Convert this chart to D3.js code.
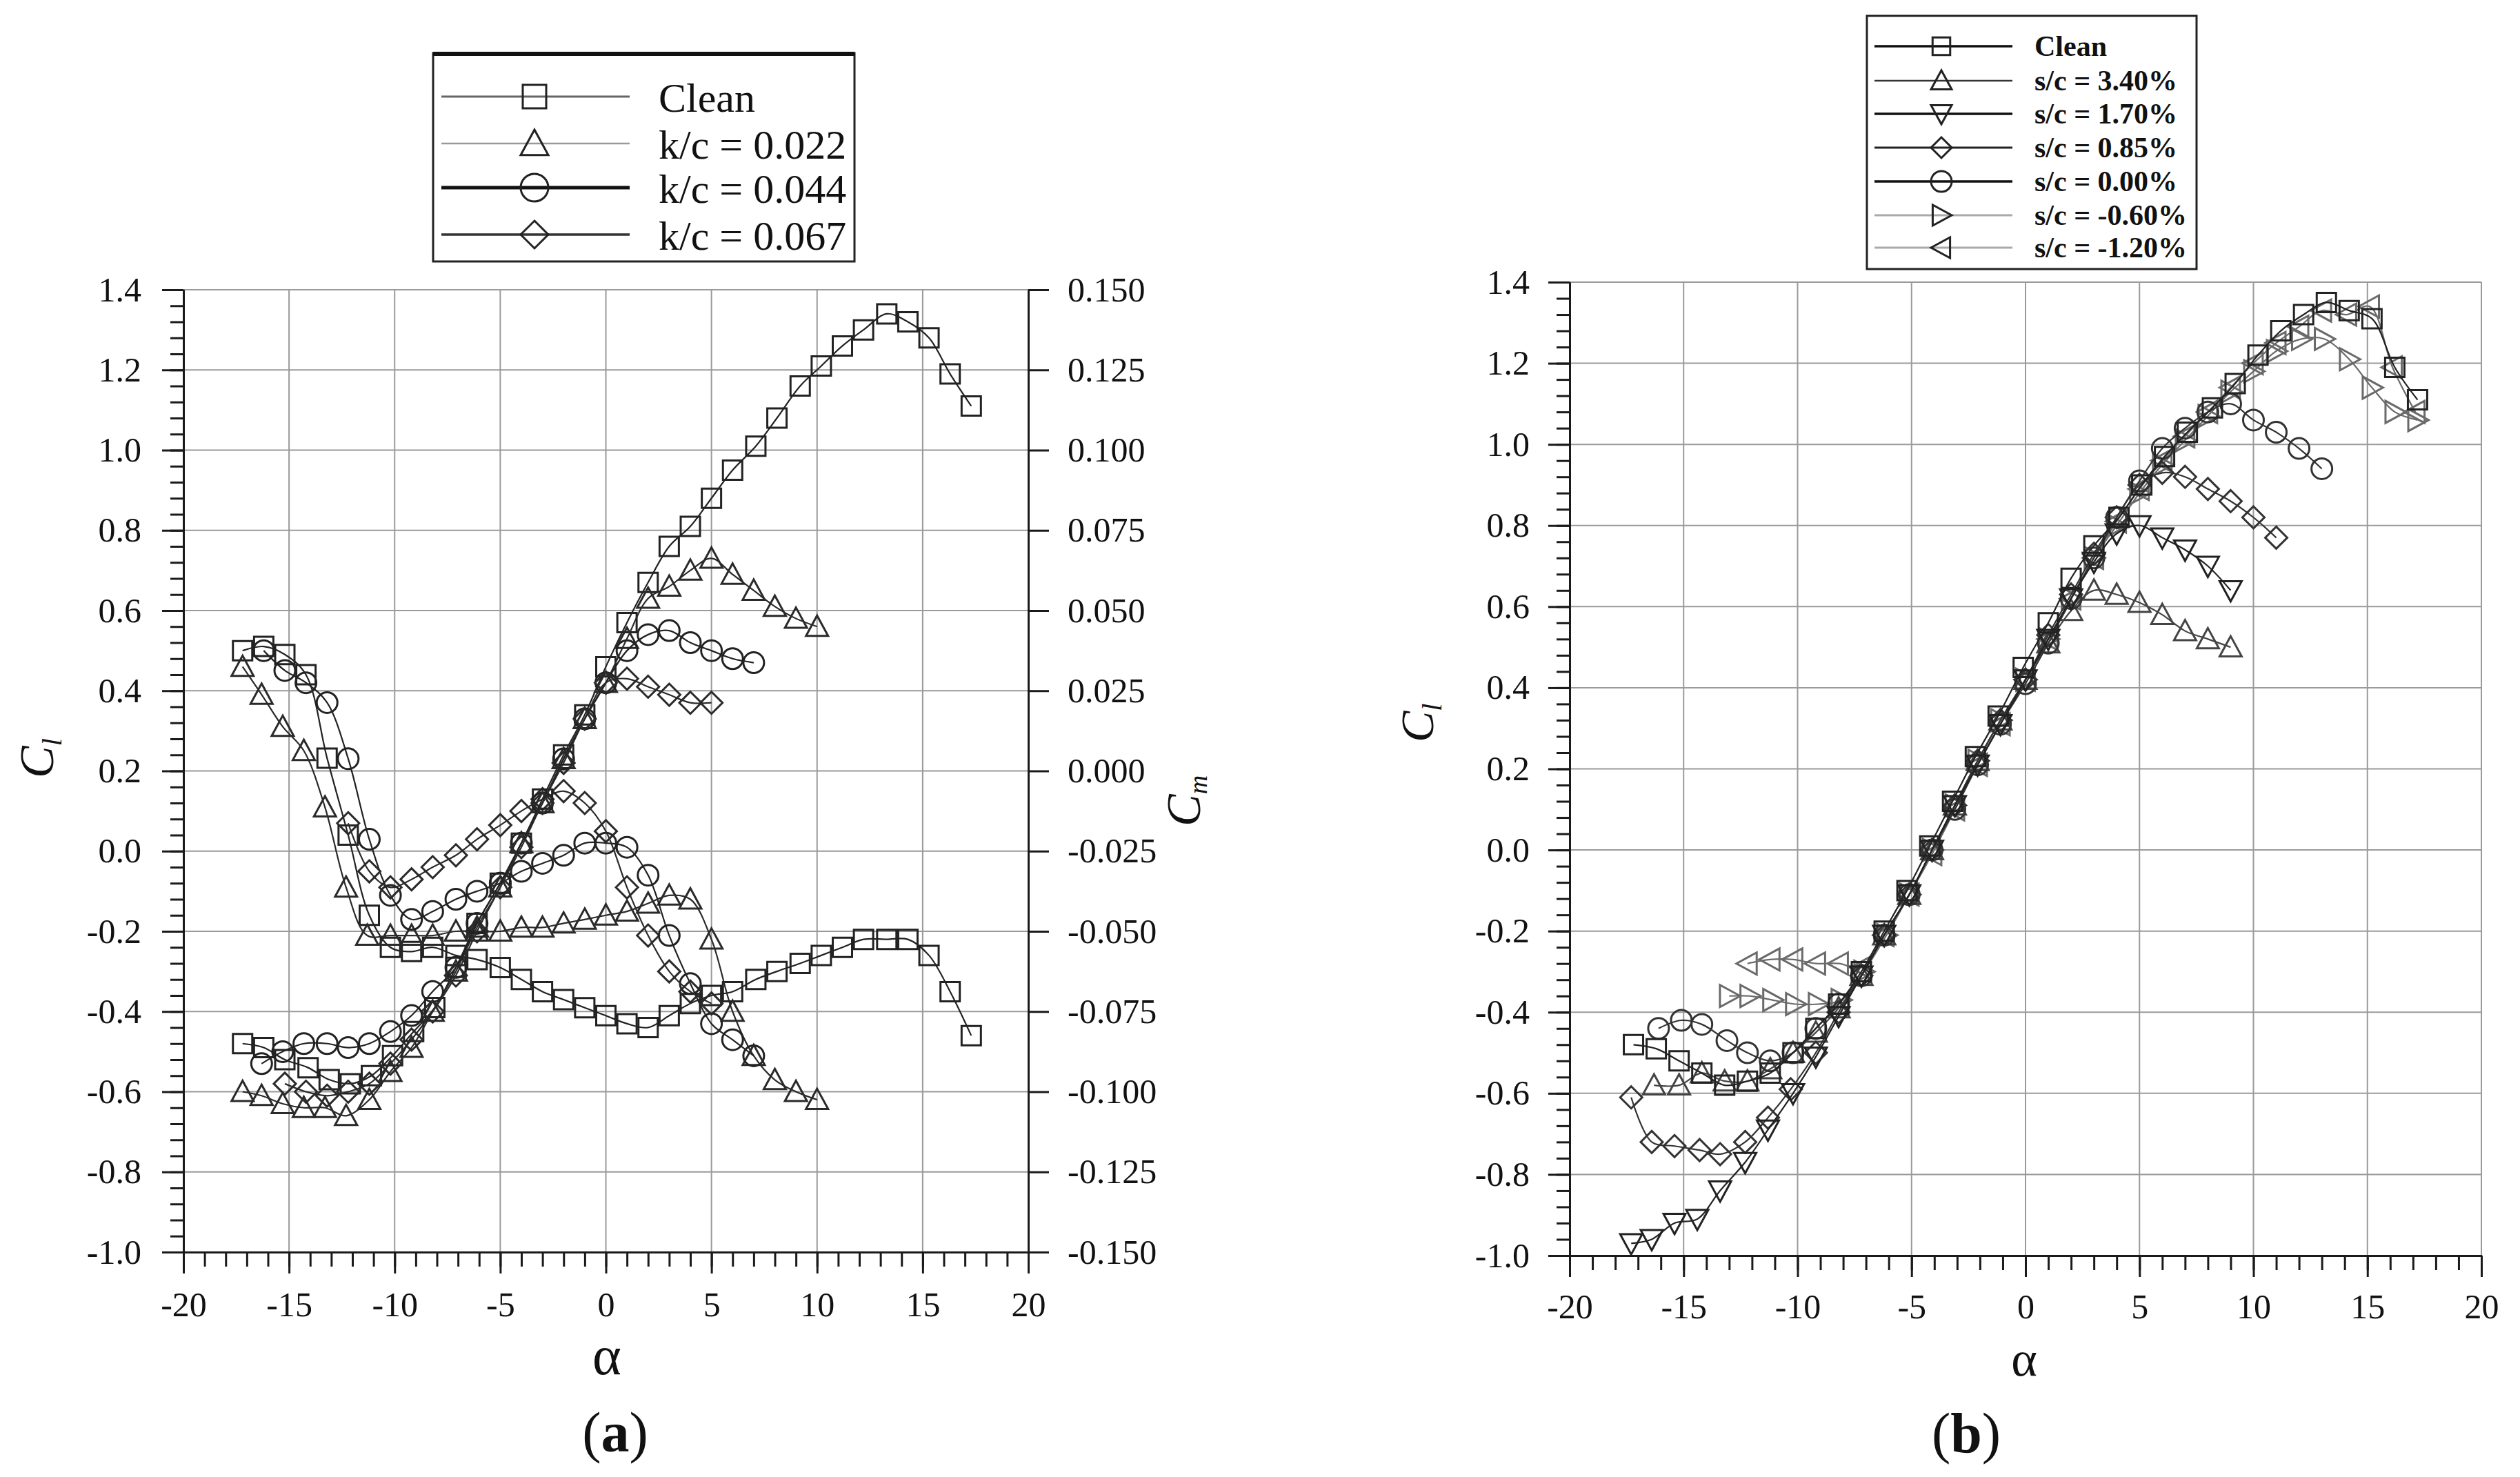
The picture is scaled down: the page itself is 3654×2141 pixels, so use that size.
<!DOCTYPE html>
<html>
<head>
<meta charset="utf-8">
<script src="https://cdn.jsdelivr.net/npm/d3@7"></script>
<style>
body{margin:0;background:#fff;}
svg text{font-family:"Liberation Serif","Times New Roman",serif;fill:#111;}
.axis path,.axis line{stroke:#1a1a1a;stroke-width:3;}
.axis text{font-size:50px;}
.grid line{stroke:#9a9a9a;stroke-width:2;}
</style>
</head>
<body>
<svg id="chart"></svg>
<script>
// tick labels
var alphaTicks = [-20, -15, -10, -5, 0, 5, 10, 15, 20];
var clTicks = [-1.0, -0.8, -0.6, -0.4, -0.2, 0.0, 0.2, 0.4, 0.6, 0.8, 1.0, 1.2, 1.4];
var cmTicks = [-0.150, -0.125, -0.100, -0.075, -0.050, -0.025, 0.000, 0.025, 0.050, 0.075, 0.100, 0.125, 0.150];

// panel (a): [alpha, Cl] and [alpha, Cm]
var aCleanCl = [[-17.2,-0.48],[-16.2,-0.49],[-15.2,-0.52],[-14.1,-0.54],[-13.1,-0.57],[-12.1,-0.58],[-11.1,-0.56],[-10.1,-0.51],[-9.1,-0.45],[-8.1,-0.39],[-7.1,-0.29],[-6.1,-0.18],[-5.0,-0.08],[-4.0,0.02],[-3.0,0.13],[-2.0,0.24],[-1.0,0.34],[0.0,0.46],[1.0,0.57],[2.0,0.67],[3.0,0.76],[4.0,0.81],[5.0,0.88],[6.0,0.95],[7.1,1.01],[8.1,1.08],[9.2,1.16],[10.2,1.21],[11.2,1.26],[12.2,1.30],[13.3,1.34],[14.3,1.32],[15.3,1.28],[16.3,1.19],[17.3,1.11]];
var a022Cl = [[-17.2,-0.60],[-16.3,-0.61],[-15.3,-0.63],[-14.3,-0.64],[-13.3,-0.64],[-12.3,-0.66],[-11.2,-0.62],[-10.2,-0.55],[-9.2,-0.49],[-8.2,-0.40],[-7.1,-0.30],[-6.1,-0.19],[-5.0,-0.09],[-4.0,0.02],[-3.0,0.12],[-2.0,0.23],[-1.0,0.33],[0.0,0.42],[1.0,0.53],[2.0,0.63],[3.0,0.66],[4.0,0.70],[5.0,0.73],[6.0,0.69],[7.0,0.65],[8.0,0.61],[9.0,0.58],[10.0,0.56]];
var a044Cl = [[-16.3,-0.53],[-15.3,-0.50],[-14.3,-0.48],[-13.2,-0.48],[-12.2,-0.49],[-11.2,-0.48],[-10.2,-0.45],[-9.2,-0.41],[-8.2,-0.35],[-7.1,-0.29],[-6.1,-0.18],[-5.0,-0.08],[-4.0,0.02],[-3.0,0.12],[-2.0,0.23],[-1.0,0.33],[0.0,0.42],[1.0,0.50],[2.0,0.54],[3.0,0.55],[4.0,0.52],[5.0,0.50],[6.0,0.48],[7.0,0.47]];
var a067Cl = [[-15.2,-0.58],[-14.2,-0.60],[-13.2,-0.61],[-12.2,-0.60],[-11.2,-0.58],[-10.2,-0.53],[-9.2,-0.47],[-8.2,-0.40],[-7.1,-0.31],[-6.1,-0.20],[-5.0,-0.09],[-4.0,0.01],[-3.0,0.12],[-2.0,0.22],[-1.0,0.33],[0.0,0.42],[1.0,0.43],[2.0,0.41],[3.0,0.39],[4.0,0.37],[5.0,0.37]];
var aCleanCm = [[-17.2,0.0375],[-16.2,0.0388],[-15.2,0.0363],[-14.2,0.0300],[-13.2,0.0040],[-12.2,-0.0200],[-11.2,-0.0450],[-10.2,-0.0550],[-9.2,-0.0563],[-8.2,-0.0550],[-7.1,-0.0575],[-6.1,-0.0588],[-5.0,-0.0613],[-4.0,-0.0650],[-3.0,-0.0688],[-2.0,-0.0713],[-1.0,-0.0738],[0.0,-0.0763],[1.0,-0.0788],[2.0,-0.0800],[3.0,-0.0763],[4.0,-0.0725],[5.0,-0.0700],[6.0,-0.0688],[7.1,-0.0650],[8.1,-0.0625],[9.2,-0.0600],[10.2,-0.0575],[11.2,-0.0550],[12.2,-0.0525],[13.3,-0.0525],[14.3,-0.0525],[15.3,-0.0575],[16.3,-0.0688],[17.3,-0.0825]];
var a022Cm = [[-17.2,0.0325],[-16.3,0.0238],[-15.3,0.0138],[-14.3,0.0063],[-13.3,-0.0113],[-12.3,-0.0363],[-11.3,-0.0513],[-10.2,-0.0513],[-9.2,-0.0513],[-8.2,-0.0513],[-7.1,-0.0500],[-6.1,-0.0500],[-5.0,-0.0500],[-4.0,-0.0488],[-3.0,-0.0488],[-2.0,-0.0475],[-1.0,-0.0463],[0.0,-0.0450],[1.0,-0.0438],[2.0,-0.0413],[3.0,-0.0388],[4.0,-0.0400],[5.0,-0.0525],[6.0,-0.0750],[7.0,-0.0888],[8.0,-0.0963],[9.0,-0.1000],[10.0,-0.1025]];
var a044Cm = [[-16.2,0.0375],[-15.2,0.0313],[-14.2,0.0275],[-13.2,0.0213],[-12.2,0.0038],[-11.2,-0.0213],[-10.2,-0.0388],[-9.2,-0.0463],[-8.2,-0.0438],[-7.1,-0.0400],[-6.1,-0.0375],[-5.0,-0.0350],[-4.0,-0.0313],[-3.0,-0.0288],[-2.0,-0.0263],[-1.0,-0.0225],[0.0,-0.0225],[1.0,-0.0238],[2.0,-0.0325],[3.0,-0.0513],[4.0,-0.0663],[5.0,-0.0788],[6.0,-0.0838],[7.0,-0.0888]];
var a067Cm = [[-12.2,-0.0163],[-11.2,-0.0313],[-10.2,-0.0363],[-9.2,-0.0338],[-8.2,-0.0300],[-7.1,-0.0263],[-6.1,-0.0213],[-5.0,-0.0169],[-4.0,-0.0125],[-3.0,-0.0088],[-2.0,-0.0063],[-1.0,-0.0100],[0.0,-0.0188],[1.0,-0.0363],[2.0,-0.0513],[3.0,-0.0625],[4.0,-0.0688],[5.0,-0.0725]];

// panel (b): [alpha, Cl]
var bClean = [[-17.2,-0.48],[-16.2,-0.49],[-15.2,-0.52],[-14.2,-0.55],[-13.2,-0.58],[-12.2,-0.57],[-11.2,-0.55],[-10.2,-0.50],[-9.2,-0.44],[-8.2,-0.38],[-7.2,-0.30],[-6.2,-0.20],[-5.2,-0.10],[-4.2,0.01],[-3.2,0.12],[-2.2,0.23],[-1.2,0.33],[-0.1,0.45],[1.0,0.56],[2.0,0.67],[3.0,0.75],[4.1,0.82],[5.1,0.90],[6.1,0.97],[7.1,1.03],[8.2,1.09],[9.2,1.15],[10.2,1.22],[11.2,1.28],[12.2,1.32],[13.2,1.35],[14.2,1.33],[15.2,1.31],[16.2,1.19],[17.2,1.11]];
var b340 = [[-16.3,-0.58],[-15.2,-0.58],[-14.2,-0.55],[-13.2,-0.57],[-12.2,-0.57],[-11.2,-0.54],[-10.2,-0.50],[-9.2,-0.45],[-8.2,-0.39],[-7.2,-0.31],[-6.2,-0.21],[-5.1,-0.11],[-4.1,0.00],[-3.1,0.11],[-2.1,0.22],[-1.1,0.32],[0.0,0.42],[1.0,0.51],[2.0,0.59],[3.0,0.64],[4.0,0.63],[5.0,0.61],[6.0,0.58],[7.0,0.54],[8.0,0.52],[9.0,0.50]];
var b170 = [[-17.3,-0.97],[-16.4,-0.96],[-15.4,-0.92],[-14.4,-0.91],[-13.4,-0.84],[-12.3,-0.77],[-11.3,-0.69],[-10.2,-0.60],[-9.2,-0.51],[-8.2,-0.41],[-7.2,-0.31],[-6.2,-0.21],[-5.1,-0.11],[-4.1,0.00],[-3.1,0.11],[-2.1,0.21],[-1.1,0.31],[0.0,0.42],[1.0,0.52],[2.0,0.62],[3.0,0.71],[4.0,0.78],[5.0,0.80],[6.0,0.77],[7.0,0.74],[8.0,0.70],[9.0,0.64]];
var b085 = [[-17.3,-0.61],[-16.4,-0.72],[-15.4,-0.73],[-14.3,-0.74],[-13.4,-0.75],[-12.3,-0.72],[-11.3,-0.66],[-10.3,-0.59],[-9.2,-0.50],[-8.2,-0.40],[-7.2,-0.31],[-6.2,-0.21],[-5.1,-0.11],[-4.1,0.00],[-3.1,0.11],[-2.1,0.22],[-1.1,0.32],[0.0,0.42],[1.0,0.53],[2.0,0.63],[3.0,0.73],[4.0,0.82],[5.0,0.90],[6.0,0.93],[7.0,0.92],[8.0,0.89],[9.0,0.86],[10.0,0.82],[11.0,0.77]];
var b000 = [[-16.1,-0.44],[-15.1,-0.42],[-14.2,-0.43],[-13.1,-0.47],[-12.2,-0.50],[-11.2,-0.52],[-10.2,-0.50],[-9.2,-0.44],[-8.2,-0.38],[-7.2,-0.31],[-6.2,-0.21],[-5.1,-0.11],[-4.1,0.00],[-3.1,0.10],[-2.1,0.21],[-1.1,0.31],[0.0,0.41],[1.0,0.51],[2.0,0.62],[3.0,0.72],[4.0,0.82],[5.0,0.91],[6.0,0.99],[7.0,1.04],[8.0,1.08],[9.0,1.10],[10.0,1.06],[11.0,1.03],[12.0,0.99],[13.0,0.94]];
var bm060 = [[-13.0,-0.36],[-12.1,-0.36],[-11.1,-0.37],[-10.1,-0.38],[-9.1,-0.38],[-8.1,-0.37],[-7.1,-0.30],[-6.1,-0.21],[-5.1,-0.11],[-4.1,0.00],[-3.1,0.11],[-2.1,0.22],[-1.1,0.32],[0.0,0.42],[1.0,0.52],[2.0,0.62],[3.0,0.72],[4.0,0.80],[5.0,0.88],[6.0,0.95],[7.0,1.01],[8.0,1.07],[9.0,1.13],[10.0,1.18],[11.0,1.23],[12.1,1.26],[13.1,1.26],[14.2,1.21],[15.2,1.14],[16.2,1.08],[17.2,1.06]];
var bm120 = [[-12.2,-0.28],[-11.2,-0.27],[-10.2,-0.27],[-9.2,-0.28],[-8.2,-0.28],[-7.2,-0.29],[-6.2,-0.21],[-5.1,-0.11],[-4.1,-0.01],[-3.1,0.10],[-2.1,0.21],[-1.1,0.31],[0.0,0.42],[1.0,0.52],[2.0,0.62],[3.0,0.72],[4.0,0.81],[5.0,0.89],[6.0,0.96],[7.0,1.02],[8.0,1.08],[9.0,1.14],[10.0,1.20],[11.0,1.25],[12.0,1.29],[13.0,1.33],[14.1,1.32],[15.1,1.34],[16.1,1.19],[17.1,1.08]];

var aLegendNames = ['Clean', 'k/c = 0.022', 'k/c = 0.044', 'k/c = 0.067'];
var bLegendNames = ['Clean', 's/c = 3.40%', 's/c = 1.70%', 's/c = 0.85%', 's/c = 0.00%', 's/c = -0.60%', 's/c = -1.20%'];

var svg = d3.select('#chart').attr('width', 3654).attr('height', 2141);
svg.append('rect').attr('width', 3654).attr('height', 2141).attr('fill', '#fff');

var markSize = {square: 28, circle: 30, up: 32, down: 32, left: 32, right: 32, diamond: 32};

function markerPath(shape, s) {
    var h = s / 2, t = s * 0.42;
    if (shape === 'square') return 'M' + -h + ',' + -h + 'H' + h + 'V' + h + 'H' + -h + 'Z';
    if (shape === 'circle') return 'M' + h + ',0A' + h + ',' + h + ',0,1,1,' + -h + ',0A' + h + ',' + h + ',0,1,1,' + h + ',0Z';
    if (shape === 'diamond') return 'M0,' + -h + 'L' + h + ',0L0,' + h + 'L' + -h + ',0Z';
    if (shape === 'up') return 'M0,' + -h + 'L' + h + ',' + t + 'L' + -h + ',' + t + 'Z';
    if (shape === 'down') return 'M0,' + h + 'L' + h + ',' + -t + 'L' + -h + ',' + -t + 'Z';
    if (shape === 'right') return 'M' + h + ',0L' + -t + ',' + -h + 'L' + -t + ',' + h + 'Z';
    return 'M' + -h + ',0L' + t + ',' + -h + 'L' + t + ',' + h + 'Z';
}

function drawFrame(x, y, rightGrid) {
    var g = svg.append('g');
    var grid = g.append('g').attr('class', 'grid');
    var vx = alphaTicks.filter(function(d) { return d > -20 && (rightGrid || d < 20); });
    grid.selectAll('.gv').data(vx).enter().append('line')
        .attr('x1', function(d) { return x(d); }).attr('x2', function(d) { return x(d); })
        .attr('y1', y.range()[0]).attr('y2', y.range()[1]);
    grid.selectAll('.gh').data(clTicks.filter(function(d) { return d > -1; })).enter().append('line')
        .attr('x1', x.range()[0]).attr('x2', x.range()[1])
        .attr('y1', function(d) { return y(d); }).attr('y2', function(d) { return y(d); });
    return g;
}

function drawAxes(x, y, yPad, xPad) {
    var left = x.range()[0], bottom = y.range()[0];
    var minorY = d3.range(0, 61).map(function(i) { return -1 + i * 0.04; });
    var minorX = d3.range(-20, 21);
    svg.append('g').attr('class', 'axis').attr('transform', 'translate(' + left + ',0)')
        .call(d3.axisLeft(y).tickValues(minorY).tickSize(19).tickSizeOuter(0).tickFormat(''));
    svg.append('g').attr('class', 'axis').attr('transform', 'translate(' + left + ',0)')
        .call(d3.axisLeft(y).tickValues(clTicks).tickSize(31).tickSizeOuter(0).tickPadding(yPad)
            .tickFormat(function(d) { return d.toFixed(1); }));
    svg.append('g').attr('class', 'axis').attr('transform', 'translate(0,' + bottom + ')')
        .call(d3.axisBottom(x).tickValues(minorX).tickSize(21).tickSizeOuter(0).tickFormat(''));
    svg.append('g').attr('class', 'axis').attr('transform', 'translate(0,' + bottom + ')')
        .call(d3.axisBottom(x).tickValues(alphaTicks).tickSize(31).tickSizeOuter(0).tickPadding(xPad)
            .tickFormat(function(d) { return String(d); }));
}

function drawSeries(g, data, x, y, shape, color) {
    var line = d3.line()
        .x(function(d) { return x(d[0]); })
        .y(function(d) { return y(d[1]); })
        .curve(d3.curveCatmullRom.alpha(0.5));
    g.append('path').datum(data)
        .attr('d', line)
        .attr('fill', 'none')
        .attr('stroke', color)
        .attr('stroke-width', 2.2);
    g.selectAll(null).data(data).enter().append('path')
        .attr('transform', function(d) { return 'translate(' + x(d[0]) + ',' + y(d[1]) + ')'; })
        .attr('d', markerPath(shape, markSize[shape]))
        .attr('fill', 'none')
        .attr('stroke', color)
        .attr('stroke-width', 3);
}

function drawLegend(box, names, shapes, styles, rows, x1, x2, xm, xt, fontSize, dyText, mSize, weight) {
    var g = svg.append('g');
    g.append('rect').attr('x', box[0]).attr('y', box[1]).attr('width', box[2]).attr('height', box[3])
        .attr('fill', '#fff').attr('stroke', '#222').attr('stroke-width', 3);
    names.forEach(function(name, i) {
        var yy = rows[i];
        g.append('line').attr('x1', x1).attr('x2', x2).attr('y1', yy).attr('y2', yy)
            .attr('stroke', styles[i][0]).attr('stroke-width', styles[i][1]);
        g.append('path').attr('transform', 'translate(' + xm + ',' + yy + ')')
            .attr('d', markerPath(shapes[i], mSize * (shapes[i] === 'square' ? 0.85 : 1)))
            .attr('fill', 'none').attr('stroke', '#222').attr('stroke-width', 3);
        g.append('text').attr('x', xt).attr('y', yy + dyText)
            .attr('font-size', fontSize + 'px')
            .attr('font-weight', weight)
            .text(name);
    });
    return g;
}

// ---------- panel (a)
var ax = d3.scaleLinear().domain([-20, 20]).range([266, 1491]);
var ay = d3.scaleLinear().domain([-1, 1.4]).range([1815, 420]);
var aym = d3.scaleLinear().domain([-0.15, 0.15]).range([1815, 420]);

var ga = drawFrame(ax, ay, false);
drawSeries(ga, aCleanCm, ax, aym, 'square', '#222');
drawSeries(ga, a022Cm, ax, aym, 'up', '#2a2a2a');
drawSeries(ga, a044Cm, ax, aym, 'circle', '#222');
drawSeries(ga, a067Cm, ax, aym, 'diamond', '#2a2a2a');
drawSeries(ga, aCleanCl, ax, ay, 'square', '#222');
drawSeries(ga, a022Cl, ax, ay, 'up', '#2a2a2a');
drawSeries(ga, a044Cl, ax, ay, 'circle', '#222');
drawSeries(ga, a067Cl, ax, ay, 'diamond', '#2a2a2a');

drawAxes(ax, ay, 30, 26);
svg.append('g').attr('class', 'axis').attr('transform', 'translate(1491,0)')
    .call(d3.axisRight(aym).tickValues(cmTicks).tickSize(30).tickSizeOuter(0).tickPadding(27)
        .tickFormat(function(d) { return d.toFixed(3); }));

svg.append('text').attr('transform', 'translate(77,1128) rotate(-90)')
    .attr('font-size', '70px').attr('font-style', 'italic')
    .text('C').append('tspan').attr('dy', 12).attr('font-size', '40px').text('l');
svg.append('text').attr('transform', 'translate(1740,1198) rotate(-90)')
    .attr('font-size', '70px').attr('font-style', 'italic')
    .text('C').append('tspan').attr('dy', 10).attr('font-size', '38px').text('m');
svg.append('text').attr('x', 880).attr('y', 1992).attr('text-anchor', 'middle')
    .attr('font-size', '80px').text('α');
var capA = svg.append('text').attr('x', 892).attr('y', 2104).attr('text-anchor', 'middle').attr('font-size', '82px');
capA.append('tspan').text('(');
capA.append('tspan').attr('font-weight', 'bold').text('a');
capA.append('tspan').text(')');

var la = drawLegend([628, 77, 611, 302], aLegendNames,
    ['square', 'up', 'circle', 'diamond'],
    [['#666', 3], ['#999', 2.5], ['#111', 5], ['#333', 3.5]],
    [140, 208, 272, 340], 640, 913, 775, 955, 60, 22, 40, 'normal');
la.append('line').attr('x1', 628).attr('x2', 1239).attr('y1', 78).attr('y2', 78)
    .attr('stroke', '#111').attr('stroke-width', 6);

// ---------- panel (b)
var bx = d3.scaleLinear().domain([-20, 20]).range([2276, 3598]);
var by = d3.scaleLinear().domain([-1, 1.4]).range([1820, 409]);

var gb = drawFrame(bx, by, true);
drawSeries(gb, bm120, bx, by, 'left', '#6a6a6a');
drawSeries(gb, bm060, bx, by, 'right', '#6a6a6a');
drawSeries(gb, b340, bx, by, 'up', '#444');
drawSeries(gb, b085, bx, by, 'diamond', '#333');
drawSeries(gb, b000, bx, by, 'circle', '#333');
drawSeries(gb, b170, bx, by, 'down', '#222');
drawSeries(gb, bClean, bx, by, 'square', '#222');

drawAxes(bx, by, 27, 24);

svg.append('text').attr('transform', 'translate(2078,1076) rotate(-90)')
    .attr('font-size', '68px').attr('font-style', 'italic')
    .text('C').append('tspan').attr('dy', 12).attr('font-size', '40px').text('l');
svg.append('text').attr('x', 2935).attr('y', 1994).attr('text-anchor', 'middle')
    .attr('font-size', '72px').text('α');
var capB = svg.append('text').attr('x', 2851).attr('y', 2105).attr('text-anchor', 'middle').attr('font-size', '82px');
capB.append('tspan').text('(');
capB.append('tspan').attr('font-weight', 'bold').text('b');
capB.append('tspan').text(')');

drawLegend([2707, 23, 478, 367], bLegendNames,
    ['square', 'up', 'down', 'diamond', 'circle', 'right', 'left'],
    [['#111', 3.5], ['#333', 2.5], ['#111', 3.5], ['#222', 3], ['#111', 3.5], ['#aaa', 3], ['#aaa', 3]],
    [67, 117, 165, 214, 263, 312, 359], 2718, 2918, 2815, 2950, 42, 14, 30, 'bold');
</script>
</body>
</html>
